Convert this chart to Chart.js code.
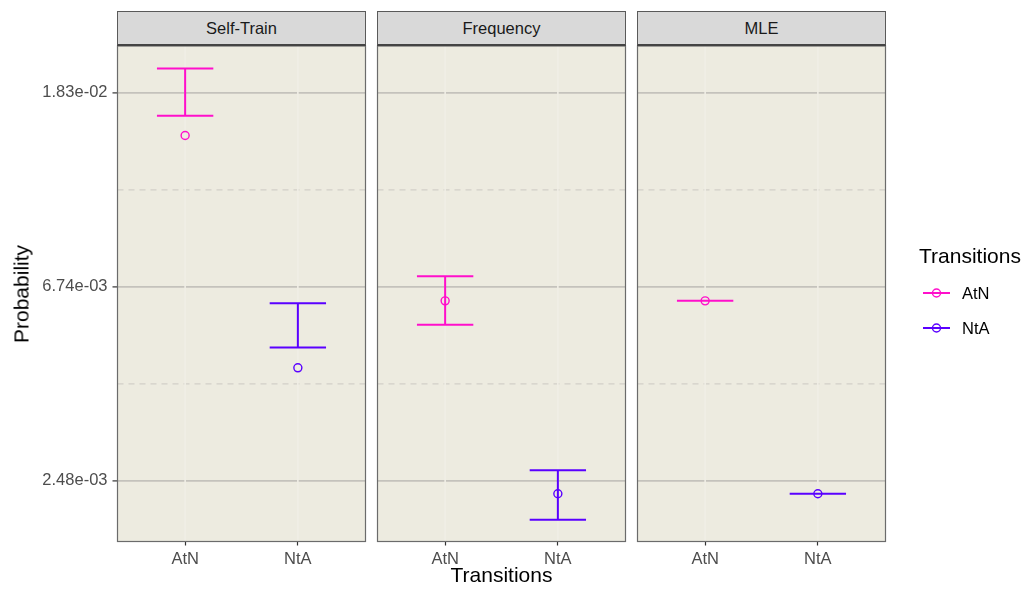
<!DOCTYPE html>
<html lang="en">
<head>
<meta charset="UTF-8">
<title>Transition probabilities by method</title>
<script src="https://cdn.jsdelivr.net/npm/chart.js"></script>
<style>
  body { margin: 0; width: 1025px; height: 594px; background: #fff; position: relative; overflow: hidden;
         font-family: "Liberation Sans", Arial, sans-serif; }
  canvas { position: absolute; left: 0; top: 0; }
  .strip { position: absolute; top: 11px; height: 35px; box-sizing: border-box; background: #D9D9D9;
           border: 1px solid #5a5a5a; border-bottom: 2px solid #444; color: #1A1A1A; font-size: 16.5px;
           text-align: center; line-height: 32px; }
  .title { position: absolute; color: #000; font-size: 21px; line-height: 21px; white-space: nowrap; }
  .legend-item { position: absolute; left: 921px; height: 20px; font-size: 16.5px; color: #000; line-height: 20px; }
  .legend-item svg { position: absolute; left: 0; top: 0; }
  .legend-item span { position: absolute; left: 41px; top: 0; }
</style>
</head>
<body>
<script>
  // facets, categories and values
  const methods = ['Self-Train', 'Frequency', 'MLE'];
  const transitions = ['AtN', 'NtA'];
  const colors = ['#FF0FCB', '#5A00FF'];

  const probAtN  = [0.01470, 0.00627, 0.00627];
  const lowerAtN = [0.01628, 0.00554, 0.00627];
  const upperAtN = [0.02075, 0.00712, 0.00627];

  const probNtA  = [0.00444, 0.00232, 0.00232];
  const lowerNtA = [0.00493, 0.00203, 0.00232];
  const upperNtA = [0.00619, 0.00262, 0.00232];

  // log-scale breaks (e^-6, e^-5, e^-4) and the minor ones between
  const yBreaks = [0.0024788, 0.0067379, 0.0183156];
  const yMinorBreaks = [0.0040868, 0.0111090];
  const yMin = 0.0018145, yMax = 0.023307;

  // layout
  const W = 1025, H = 594;
  const panelLeft = [117.5, 377.5, 637.5];
  const panelRight = [365.5, 625.5, 885.5];
  const panelTop = 46, panelBottom = 541.5;
  const Y_AXIS_W = 80, X_AXIS_H = 40;
  const panelBg = '#EDEBE0';

  Chart.defaults.font.family = '"Liberation Sans", Arial, sans-serif';

  function sci(v) {
    const parts = v.toExponential(2).split('e');
    const n = parseInt(parts[1], 10);
    return parts[0] + 'e' + (n < 0 ? '-' : '+') + String(Math.abs(n)).padStart(2, '0');
  }

  const facetPlugin = {
    id: 'facet',
    beforeDraw(chart) {
      const a = chart.chartArea, ctx = chart.ctx;
      ctx.save();
      ctx.fillStyle = panelBg;
      ctx.fillRect(a.left, a.top, a.right - a.left, a.bottom - a.top);
      ctx.restore();
    },
    beforeDatasetsDraw(chart) {
      const a = chart.chartArea, ctx = chart.ctx;
      const xs = chart.scales.x, ys = chart.scales.y;
      const i = chart.options.facetIndex;
      ctx.save();
      // minor dashed grid
      ctx.strokeStyle = '#D2D0C8';
      ctx.lineWidth = 1.2;
      ctx.setLineDash([6, 5]);
      yMinorBreaks.forEach(v => {
        const y = ys.getPixelForValue(v);
        ctx.beginPath(); ctx.moveTo(a.left, y); ctx.lineTo(a.right, y); ctx.stroke();
      });
      ctx.setLineDash([]);
      // vertical major grid, almost the panel colour
      ctx.strokeStyle = '#F0EEE6';
      ctx.lineWidth = 1.6;
      transitions.forEach((t, k) => {
        const x = xs.getPixelForValue(k + 1);
        ctx.beginPath(); ctx.moveTo(x, a.top); ctx.lineTo(x, a.bottom); ctx.stroke();
      });
      // error bars
      const lows = [lowerAtN[i], lowerNtA[i]];
      const ups = [upperAtN[i], upperNtA[i]];
      ctx.lineWidth = 2;
      transitions.forEach((t, k) => {
        const x = xs.getPixelForValue(k + 1);
        const x0 = xs.getPixelForValue(k + 1 - 0.25);
        const x1 = xs.getPixelForValue(k + 1 + 0.25);
        const yl = ys.getPixelForValue(lows[k]);
        const yu = ys.getPixelForValue(ups[k]);
        ctx.strokeStyle = colors[k];
        ctx.beginPath();
        ctx.moveTo(x0, yu); ctx.lineTo(x1, yu);
        ctx.moveTo(x0, yl); ctx.lineTo(x1, yl);
        ctx.moveTo(x, yu); ctx.lineTo(x, yl);
        ctx.stroke();
      });
      ctx.restore();
    },
    afterDraw(chart) {
      const a = chart.chartArea, ctx = chart.ctx;
      ctx.save();
      ctx.strokeStyle = '#6b6b6b';
      ctx.lineWidth = 1.2;
      ctx.strokeRect(a.left, a.top, a.right - a.left, a.bottom - a.top);
      ctx.restore();
    }
  };

  methods.forEach((m, i) => {
    const cv = document.createElement('canvas');
    cv.width = W; cv.height = H;
    document.body.appendChild(cv);

    const strip = document.createElement('div');
    strip.className = 'strip';
    strip.style.left = (panelLeft[i] - 0.5) + 'px';
    strip.style.width = (panelRight[i] - panelLeft[i] + 1) + 'px';
    strip.textContent = m;
    document.body.appendChild(strip);

    const first = i === 0;
    new Chart(cv, {
      type: 'line',
      data: {
        datasets: [
          { label: transitions[0], data: [{ x: 1, y: probAtN[i] }] },
          { label: transitions[1], data: [{ x: 2, y: probNtA[i] }] }
        ].map((d, k) => Object.assign(d, {
          showLine: false,
          pointStyle: 'circle',
          pointRadius: 4,
          pointBorderWidth: 1.4,
          pointBorderColor: colors[k],
          pointBackgroundColor: 'rgba(0,0,0,0)',
          borderColor: colors[k]
        }))
      },
      options: {
        facetIndex: i,
        responsive: false,
        animation: false,
        events: [],
        layout: {
          padding: {
            left: first ? panelLeft[i] - Y_AXIS_W : panelLeft[i],
            right: W - panelRight[i],
            top: panelTop,
            bottom: H - panelBottom - X_AXIS_H
          }
        },
        plugins: { legend: { display: false }, tooltip: { enabled: false } },
        scales: {
          x: {
            type: 'linear',
            min: 0.4,
            max: 2.6,
            afterBuildTicks: s => { s.ticks = transitions.map((t, k) => ({ value: k + 1 })); },
            afterFit: s => { s.height = X_AXIS_H; },
            ticks: {
              callback: v => transitions[v - 1],
              color: '#4D4D4D',
              font: { size: 16.5 },
              padding: 4,
              maxRotation: 0
            },
            grid: { drawOnChartArea: false, tickLength: 4, tickColor: '#333', tickWidth: 1.2 },
            border: { display: false }
          },
          y: {
            type: 'logarithmic',
            min: yMin,
            max: yMax,
            afterBuildTicks: s => { s.ticks = yBreaks.map(v => ({ value: v })); },
            afterFit: s => { s.width = first ? Y_AXIS_W : 0; },
            ticks: {
              display: first,
              callback: v => sci(v),
              color: '#4D4D4D',
              font: { size: 16.5 },
              padding: 5,
              autoSkip: false
            },
            grid: {
              color: '#C4C2BC',
              lineWidth: 1.8,
              drawTicks: first,
              tickLength: 5,
              tickColor: '#333',
              tickWidth: 1.2
            },
            border: { display: false }
          }
        }
      },
      plugins: [facetPlugin]
    });
  });

  // axis titles
  const yt = document.createElement('div');
  yt.className = 'title';
  yt.textContent = 'Probability';
  yt.style.left = '21px';
  yt.style.top = ((panelTop + panelBottom) / 2) + 'px';
  yt.style.transform = 'translate(-50%, -50%) rotate(-90deg)';
  document.body.appendChild(yt);

  const xt = document.createElement('div');
  xt.className = 'title';
  xt.textContent = 'Transitions';
  xt.style.left = ((panelLeft[0] + panelRight[2]) / 2) + 'px';
  xt.style.top = '564px';
  xt.style.transform = 'translateX(-50%)';
  document.body.appendChild(xt);

  // legend
  const lt = document.createElement('div');
  lt.className = 'title';
  lt.textContent = 'Transitions';
  lt.style.left = '919px';
  lt.style.top = '245px';
  document.body.appendChild(lt);

  transitions.forEach((t, k) => {
    const item = document.createElement('div');
    item.className = 'legend-item';
    item.style.top = (283 + k * 34.5) + 'px';
    item.innerHTML =
      '<svg width="32" height="20"><line x1="2" y1="10" x2="29" y2="10" stroke="' + colors[k] +
      '" stroke-width="2"/><circle cx="15.5" cy="10" r="4" fill="none" stroke="' + colors[k] +
      '" stroke-width="1.4"/></svg><span>' + t + '</span>';
    document.body.appendChild(item);
  });
</script>
</body>
</html>
